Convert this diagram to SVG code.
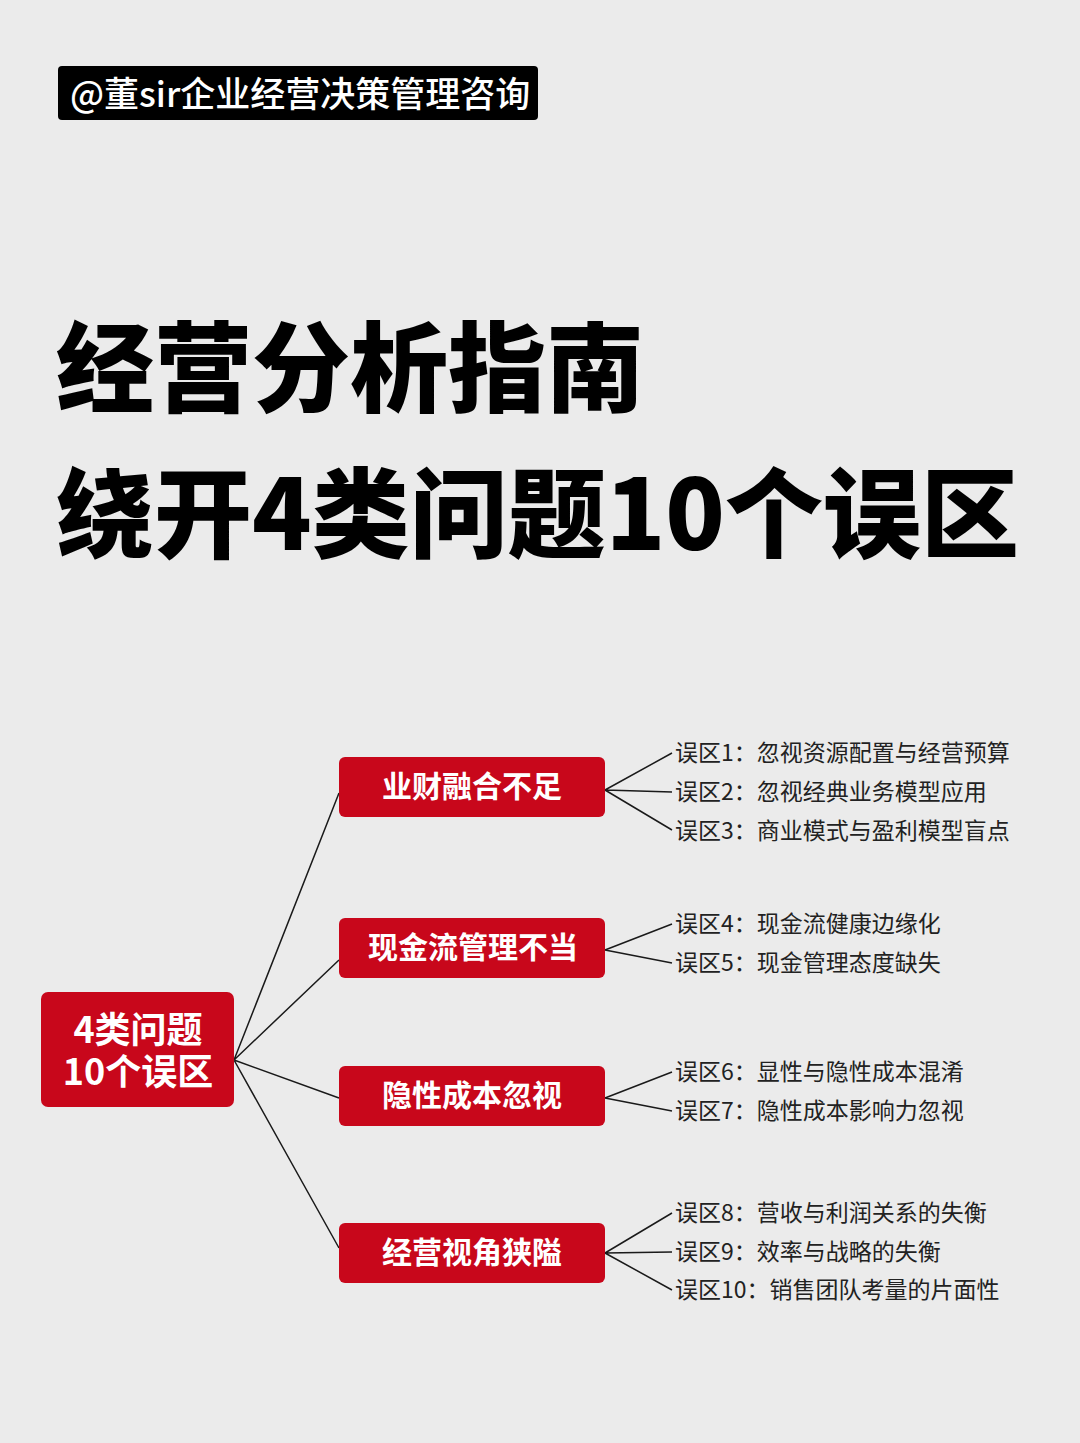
<svg xmlns="http://www.w3.org/2000/svg" width="1080" height="1443" viewBox="0 0 1080 1443">
<style>
.cjk{font-family:"Noto Sans CJK SC","Noto Sans",sans-serif}
.title{font-size:98px;font-weight:900;fill:#000}
.red{fill:#c8071b}
.cat{font-size:30px;font-weight:700;fill:#fff;text-anchor:middle}
.root{font-size:36px;font-weight:700;fill:#fff;text-anchor:middle}
.item{font-size:23px;fill:#222}
.ln{stroke:#1a1a1a;stroke-width:1.5;fill:none}
</style>
<rect width="1080" height="1443" fill="#ebebeb"/>
<g id="header">
<rect x="58" y="66" width="480" height="54" rx="4" fill="#000"/>
<text class="cjk" x="70" y="107" font-size="35" font-weight="500" fill="#fff">@董sir企业经营决策管理咨询</text>
</g>
<g id="title">
<text class="cjk title" x="56" y="404">经营分析指南</text>
<text class="cjk title" x="56" y="550">绕开4类问题10个误区</text>
</g>
<g id="connectors">
<path class="ln" d="M234 1060 L339 793 M234 1060 L339 960 M234 1060 L339 1098 M234 1060 L339 1248"/>
<path class="ln" d="M605 790 L672 753 M605 790 L672 792 M605 790 L672 830"/>
<path class="ln" d="M605 950 L672 924 M605 950 L672 963"/>
<path class="ln" d="M605 1098 L672 1072 M605 1098 L672 1111"/>
<path class="ln" d="M605 1253 L672 1213 M605 1253 L672 1252 M605 1253 L672 1290"/>
</g>
<g id="root">
<rect class="red" x="41" y="992" width="193" height="115" rx="7"/>
<text class="cjk root" x="138" y="1043">4类问题</text>
<text class="cjk root" x="138" y="1085">10个误区</text>
</g>
<g id="cat1">
<rect class="red" x="339" y="757" width="266" height="60" rx="6"/>
<text class="cjk cat" x="472" y="797">业财融合不足</text>
</g>
<g id="cat2">
<rect class="red" x="339" y="918" width="266" height="60" rx="6"/>
<text class="cjk cat" x="473" y="958">现金流管理不当</text>
</g>
<g id="cat3">
<rect class="red" x="339" y="1066" width="266" height="60" rx="6"/>
<text class="cjk cat" x="472" y="1106">隐性成本忽视</text>
</g>
<g id="cat4">
<rect class="red" x="339" y="1223" width="266" height="60" rx="6"/>
<text class="cjk cat" x="472" y="1263">经营视角狭隘</text>
</g>
<g id="items">
<text class="cjk item" x="675" y="761">误区1：忽视资源配置与经营预算</text>
<text class="cjk item" x="675" y="800">误区2：忽视经典业务模型应用</text>
<text class="cjk item" x="675" y="839">误区3：商业模式与盈利模型盲点</text>
<text class="cjk item" x="675" y="932">误区4：现金流健康边缘化</text>
<text class="cjk item" x="675" y="971">误区5：现金管理态度缺失</text>
<text class="cjk item" x="675" y="1080">误区6：显性与隐性成本混淆</text>
<text class="cjk item" x="675" y="1119">误区7：隐性成本影响力忽视</text>
<text class="cjk item" x="675" y="1221">误区8：营收与利润关系的失衡</text>
<text class="cjk item" x="675" y="1260">误区9：效率与战略的失衡</text>
<text class="cjk item" x="675" y="1298">误区10：销售团队考量的片面性</text>
</g>
</svg>
